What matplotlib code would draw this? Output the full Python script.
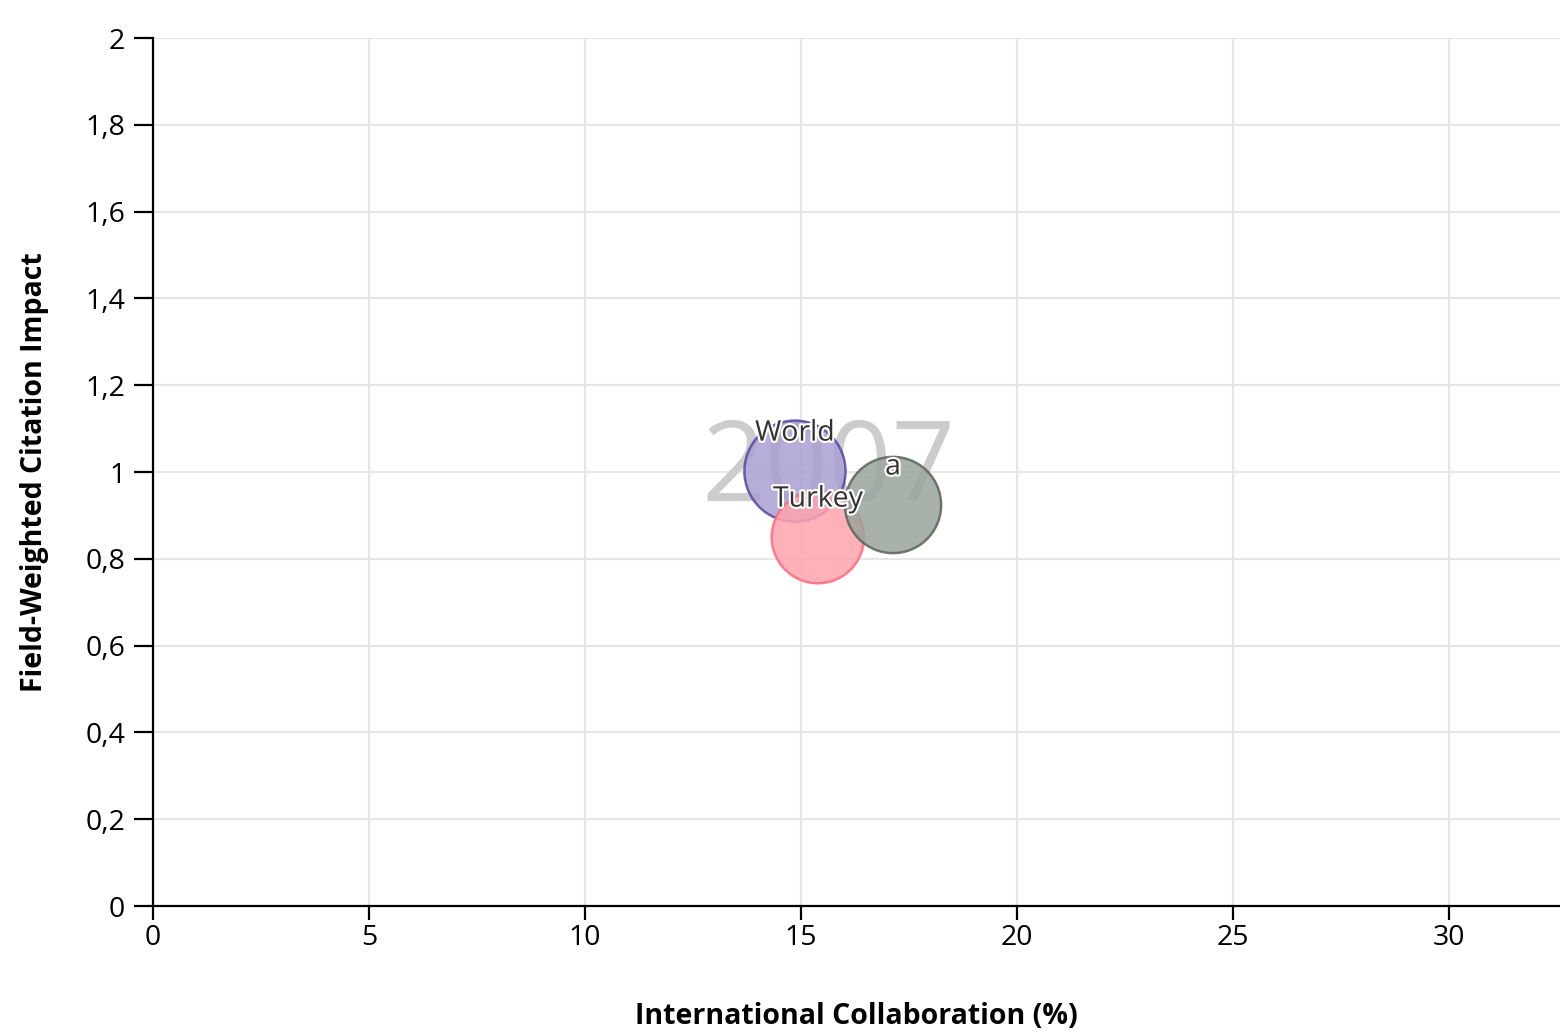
"""Bubble chart: International Collaboration vs Field-Weighted Citation Impact (2007)."""

import matplotlib
matplotlib.use("Agg")
import matplotlib.pyplot as plt
import matplotlib.patheffects as pe
from matplotlib.ticker import FuncFormatter, MultipleLocator

plt.rcParams["font.family"] = ["Open Sans", "DejaVu Sans"]

# data
entidades = ["World", "Turkey", "a"]
colaboracion = [14.86, 15.39, 17.13]
impacto = [1.002, 0.850, 0.924]
tamano = [2650, 2210, 2400]
anio = "2007"

rellenos = ["#a99fd3", "#ffa4ae", "#9aa49d"]
bordes = ["#5548a0", "#ff6a7c", "#5c645e"]


def _coma(v, _pos):
    txt = f"{v:.1f}".rstrip("0").rstrip(".")
    return txt.replace(".", ",")


fig = plt.figure(figsize=(15.6, 10.33), dpi=100)
ax = fig.add_axes([0.0981, 0.1229, 0.9019, 0.8403])

ax.set_xlim(0, 32.57)
ax.set_ylim(0, 2)
ax.xaxis.set_major_locator(MultipleLocator(5))
ax.yaxis.set_major_locator(MultipleLocator(0.2))
ax.yaxis.set_major_formatter(FuncFormatter(_coma))
ax.xaxis.set_major_formatter(FuncFormatter(_coma))

ax.grid(True, color="#e6e6e6", linewidth=1.5, zorder=0)
ax.set_axisbelow(True)
for lado in ("top", "right"):
    ax.spines[lado].set_visible(False)
for lado in ("left", "bottom"):
    ax.spines[lado].set_linewidth(1.6)
ax.tick_params(axis="y", length=14, width=1.6, labelsize=20.5, pad=6)
ax.tick_params(axis="x", length=10, width=1.6, labelsize=20.5, pad=3)

ax.text(0.48, 0.5, anio, transform=ax.transAxes, fontsize=80, color="#cccccc",
        ha="center", va="center", zorder=1)

ax.scatter(colaboracion, impacto, s=[t * 2 for t in tamano], c=rellenos,
           edgecolors=bordes, linewidths=1.8, alpha=0.85, zorder=3)

for nombre, x, y in zip(entidades, colaboracion, impacto):
    ax.annotate(nombre, (x, y), xytext=(0, 27), textcoords="offset points",
                ha="center", va="center", fontsize=20.5, color="#333333", zorder=4,
                path_effects=[pe.withStroke(linewidth=3, foreground="white")])

ax.set_xlabel("International Collaboration (%)", fontsize=20.5, fontweight="bold", labelpad=36)
ax.set_ylabel("Field-Weighted Citation Impact", fontsize=20.5, fontweight="bold", labelpad=26)

plt.savefig("out.png", dpi=100)
plt.close()
